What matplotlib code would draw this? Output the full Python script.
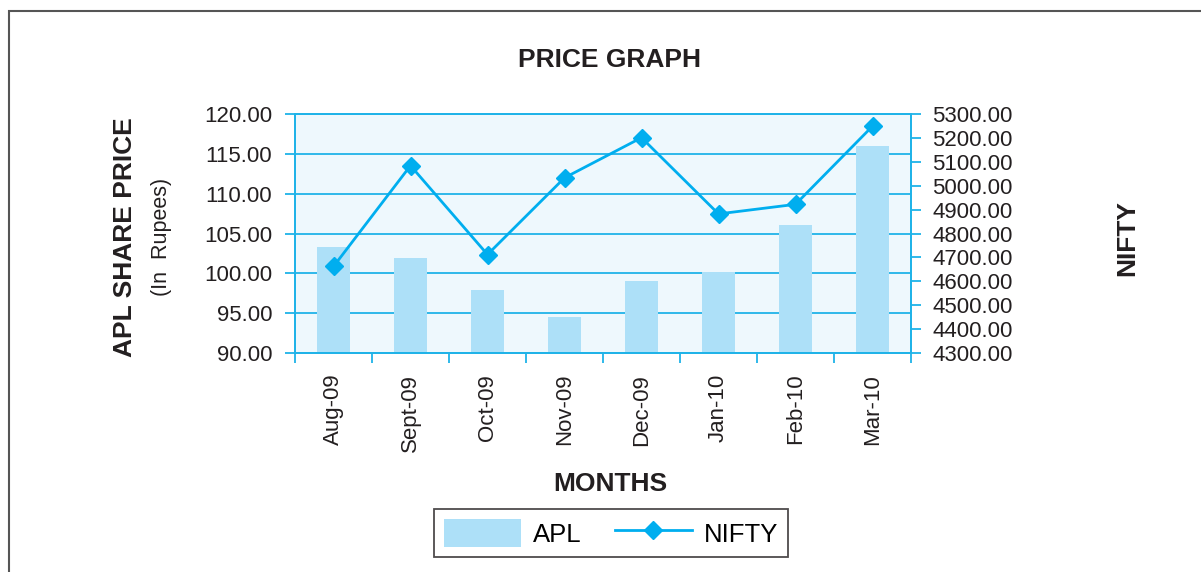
import matplotlib.pyplot as plt
from matplotlib.patches import Rectangle
import numpy as np

plt.rcParams['font.family'] = ['Liberation Sans', 'DejaVu Sans']

# Data
months = ['Aug-09', 'Sept-09', 'Oct-09', 'Nov-09', 'Dec-09', 'Jan-10', 'Feb-10', 'Mar-10']
apl = [103.3, 101.9, 97.9, 94.5, 99.0, 100.2, 106.1, 116.0]
nifty = [4662, 5084, 4712, 5033, 5201, 4882, 4922, 5249]

apl_ticks = [90, 95, 100, 105, 110, 115, 120]
nifty_ticks = [4300, 4400, 4500, 4600, 4700, 4800, 4900, 5000, 5100, 5200, 5300]

cyan = '#1fb3e8'
bar_col = '#ade0f8'
line_col = '#00aeef'
txt = '#231f20'

fig = plt.figure(figsize=(12.01, 5.72), dpi=100)
fig.patches.append(Rectangle((9 / 1201, -0.1), 1.2, 1 - 11 / 572 + 0.1,
                             transform=fig.transFigure, fill=False,
                             edgecolor='#555555', linewidth=1.5))

ax = fig.add_axes([295 / 1201, 1 - 353 / 572, 616 / 1201, 239 / 572])
ax.set_facecolor('#eef8fd')
x = np.arange(len(months))
ax.bar(x, apl, width=0.42, color=bar_col, zorder=2, label='APL')
ax.set_xlim(-0.5, len(months) - 0.5)
ax.set_ylim(90, 120)
ax.set_yticks(apl_ticks)
ax.set_yticklabels([f'{v:.2f}' for v in apl_ticks], fontsize=16, color=txt)
ax.set_xticks(x)
ax.set_xticklabels(months, rotation=90, fontsize=16, color=txt)
ax.set_xticks(np.arange(len(months) + 1) - 0.5, minor=True)
ax.tick_params(axis='x', which='major', length=0, pad=15)
ax.tick_params(axis='x', which='minor', length=7, color=cyan, width=1.3)
ax.tick_params(axis='y', length=7, color=cyan, width=1.3, pad=9.5)
ax.yaxis.grid(True, color=cyan, linewidth=1.3, zorder=1)
ax.set_axisbelow(True)
for s in ax.spines.values():
    s.set_color(cyan)
    s.set_linewidth(1.3)

ax2 = ax.twinx()
ax2.plot(x, nifty, color=line_col, marker='D', markersize=9, linewidth=2,
         label='NIFTY', zorder=3)
ax2.set_ylim(4300, 5300)
ax2.set_yticks(nifty_ticks)
ax2.set_yticklabels([f'{v:.2f}' for v in nifty_ticks], fontsize=16, color=txt)
ax2.tick_params(axis='y', length=7, color=cyan, width=1.3, pad=8.5)
for s in ax2.spines.values():
    s.set_color(cyan)
    s.set_linewidth(1.3)

fig.text(610 / 1201, 1 - 60 / 572, 'PRICE GRAPH', ha='center', va='center',
         fontsize=19, fontweight='bold', color=txt)
fig.text(610 / 1201, 1 - 484 / 572, 'MONTHS', ha='center', va='center',
         fontsize=19, fontweight='bold', color=txt)
fig.text(125 / 1201, 1 - 237 / 572, 'APL SHARE PRICE', ha='center', va='center',
         rotation=90, fontsize=19, fontweight='bold', color=txt)
fig.text(162 / 1201, 1 - 237 / 572, '(In  Rupees)', ha='center', va='center',
         rotation=90, fontsize=15.5, color=txt)
fig.text(1127 / 1201, 1 - 238 / 572, 'NIFTY', ha='center', va='center',
         rotation=90, fontsize=19, fontweight='bold', color=txt)

h1, l1 = ax.get_legend_handles_labels()
h2, l2 = ax2.get_legend_handles_labels()
leg = fig.legend(h1 + h2, l1 + l2, loc='center', bbox_to_anchor=(611 / 1201, 1 - 533 / 572),
                 ncol=2, fontsize=18.5, frameon=True, fancybox=False,
                 handlelength=3.0, handleheight=1.3, handletextpad=0.45,
                 columnspacing=1.3, borderpad=0.4, borderaxespad=0)
leg.get_frame().set_edgecolor(txt)
leg.get_frame().set_linewidth(1.3)

fig.savefig('out.png', dpi=100)
